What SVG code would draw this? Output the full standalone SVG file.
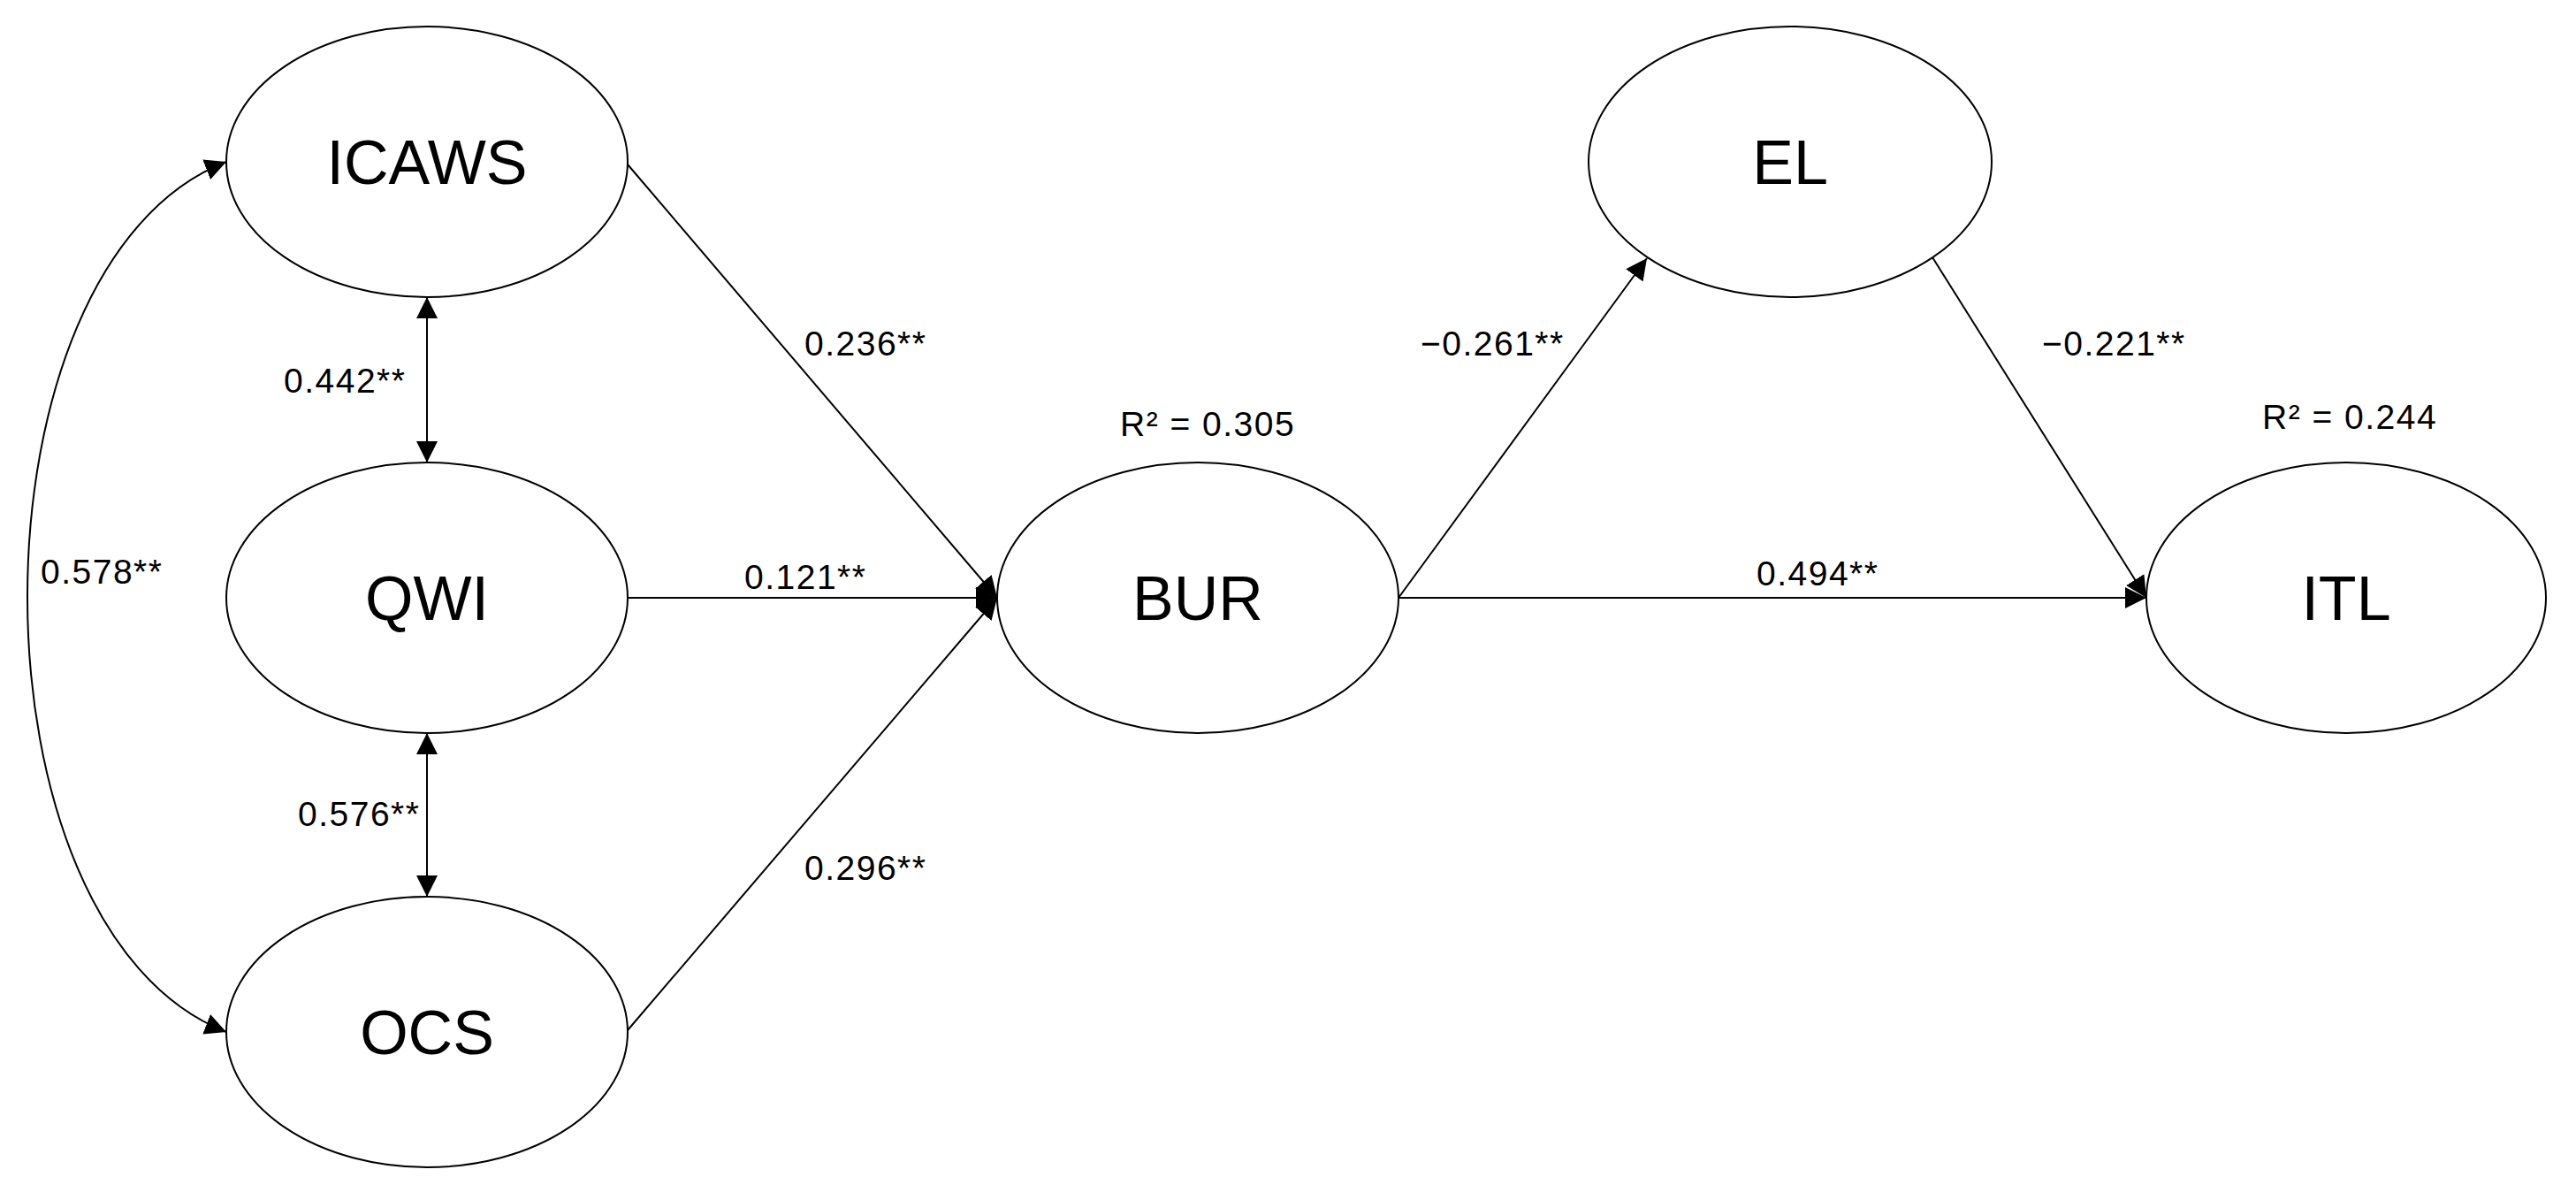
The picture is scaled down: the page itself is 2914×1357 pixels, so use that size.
<svg xmlns="http://www.w3.org/2000/svg" width="2914" height="1357" viewBox="0 0 2914 1357">
<style>
.node ellipse{fill:#fff;stroke:#000;stroke-width:2}
.node text{font-family:"Liberation Sans",Arial,sans-serif;font-size:70px;text-anchor:middle;fill:#000}
.lbl{font-family:"Liberation Sans",Arial,sans-serif;font-size:39px;letter-spacing:1.5px;fill:#000}
.conn{fill:none;stroke:#000;stroke-width:2}
</style>
<defs>
<marker id="ah" viewBox="0 0 24 24" refX="24" refY="12" markerWidth="24" markerHeight="24" markerUnits="userSpaceOnUse" orient="auto-start-reverse">
<path d="M0,0 L24,12 L0,24 z" fill="#000"/>
</marker>
</defs>
<rect width="2914" height="1357" fill="#fff"/>
<g id="connectors">
<path class="conn" d="M256,183 C-44,300 -44,1050 256,1167" marker-start="url(#ah)" marker-end="url(#ah)"/>
<line class="conn" x1="483" y1="336" x2="483" y2="523" marker-start="url(#ah)" marker-end="url(#ah)"/>
<line class="conn" x1="483" y1="829" x2="483" y2="1014" marker-start="url(#ah)" marker-end="url(#ah)"/>
<line class="conn" x1="710" y1="186" x2="1128" y2="676" marker-end="url(#ah)"/>
<line class="conn" x1="710" y1="676" x2="1128" y2="676" marker-end="url(#ah)"/>
<line class="conn" x1="710" y1="1165" x2="1128" y2="676" marker-end="url(#ah)"/>
<line class="conn" x1="1582" y1="676" x2="1863" y2="292" marker-end="url(#ah)"/>
<line class="conn" x1="2186" y1="291" x2="2428" y2="676" marker-end="url(#ah)"/>
<line class="conn" x1="1582" y1="676" x2="2428" y2="676" marker-end="url(#ah)"/>
</g>
<g id="node-ICAWS" class="node"><ellipse cx="483" cy="183" rx="227" ry="153"/><text x="483" y="208">ICAWS</text></g>
<g id="node-QWI" class="node"><ellipse cx="483" cy="676" rx="227" ry="153"/><text x="483" y="701">QWI</text></g>
<g id="node-OCS" class="node"><ellipse cx="483" cy="1167" rx="227" ry="153"/><text x="483" y="1192">OCS</text></g>
<g id="node-BUR" class="node"><ellipse cx="1355" cy="676" rx="227" ry="153"/><text x="1355" y="701">BUR</text></g>
<g id="node-EL" class="node"><ellipse cx="2025" cy="183" rx="228" ry="153"/><text x="2025" y="208">EL</text></g>
<g id="node-ITL" class="node"><ellipse cx="2654" cy="676" rx="226" ry="153"/><text x="2654" y="701">ITL</text></g>
<g id="labels">
<text class="lbl" x="910" y="402">0.236**</text>
<text class="lbl" x="321" y="444">0.442**</text>
<text class="lbl" x="46" y="660">0.578**</text>
<text class="lbl" x="842" y="666">0.121**</text>
<text class="lbl" x="337" y="934">0.576**</text>
<text class="lbl" x="910" y="995">0.296**</text>
<text class="lbl" x="1607" y="402">−0.261**</text>
<text class="lbl" x="2310" y="402">−0.221**</text>
<text class="lbl" x="1267" y="493">R² = 0.305</text>
<text class="lbl" x="2559" y="485">R² = 0.244</text>
<text class="lbl" x="1987" y="662">0.494**</text>
</g>
</svg>
